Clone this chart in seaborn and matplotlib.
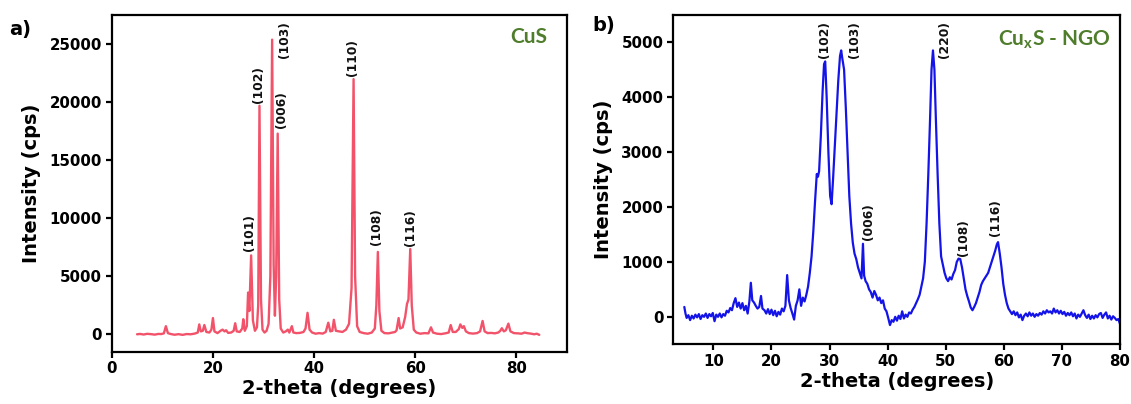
import numpy as np
import pandas as pd
import matplotlib
matplotlib.use("Agg")
import matplotlib.pyplot as plt
import seaborn as sns

# ---------------- data: panel a (CuS) ----------------
cus_theta = [5.0, 5.6, 6.3, 7.0, 7.8, 8.5, 9.2, 9.8, 10.3, 10.7, 11.1, 11.6, 12.4, 13.2, 14.0,
             14.8, 15.6, 16.4, 17.0, 17.3, 17.6, 18.0, 18.3, 18.7, 19.3, 19.7, 20.0, 20.3, 20.9,
             21.5, 21.9, 22.3, 22.6, 23.0, 23.6, 24.1, 24.4, 24.7, 25.3, 25.8, 26.0, 26.3, 26.7,
             26.95, 27.2, 27.55, 27.9, 28.3, 28.7, 28.95, 29.2, 29.5, 29.8, 30.2, 30.6, 31.0,
             31.35, 31.7, 32.0, 32.25, 32.5, 32.8, 33.1, 33.4, 33.9, 34.4, 34.8, 35.1, 35.6,
             35.9, 36.5, 37.2, 37.9, 38.3, 38.7, 39.1, 39.6, 40.3, 41.0, 41.7, 42.3, 42.8, 43.2,
             43.6, 43.9, 44.3, 44.9, 45.6, 46.3, 46.9, 47.4, 47.8, 48.1, 48.5, 49.0, 49.8, 50.6,
             51.4, 52.0, 52.3, 52.6, 52.9, 53.3, 53.9, 54.7, 55.5, 56.0, 56.3, 56.7, 57.0, 57.5,
             58.0, 58.35, 58.65, 59.0, 59.3, 59.7, 60.2, 61.0, 61.8, 62.6, 63.1, 63.5, 64.3,
             65.1, 65.9, 66.6, 67.0, 67.4, 68.0, 68.6, 68.9, 69.3, 69.6, 70.0, 70.6, 71.4, 72.2,
             72.8, 73.3, 73.7, 74.3, 75.0, 75.7, 76.4, 76.8, 77.1, 77.5, 77.9, 78.4, 78.8, 79.5,
             80.3, 81.0, 81.6, 82.1, 82.8, 83.5, 84.0, 84.5]
cus_intensity = [0, 30, -20, 40, 10, -30, 30, 20, 80, 700, 100, 30, -40, 10, -50,
                 20, 0, 60, 150, 850, 250, 300, 800, 200, 150, 400, 1400, 250, 100,
                 300, 400, 250, 350, 120, 150, 300, 950, 250, 200, 500, 1300, 300, 700,
                 3600, 2000, 6800, 1200, 300, 600, 2500, 19700, 3000, 400, 150, 300, 900,
                 5000, 25400, 6000, 1600, 5000, 17300, 3000, 500, 150, 250, 400, 150, 700,
                 150, 100, 120, 200, 500, 1850, 400, 150, 50, 100, 60, 200, 1000, 250,
                 300, 1250, 300, 250, 200, 400, 900, 4000, 22000, 5000, 700, 200, 100, 50,
                 150, 500, 2500, 7100, 2000, 300, 100, 80, 150, 200, 350, 1400, 500, 600,
                 1500, 2600, 3000, 7350, 2500, 400, 150, 50, 100, 80, 600, 150, 50,
                 20, 80, 150, 800, 200, 200, 450, 850, 550, 700, 250, 100, 60, 100,
                 250, 1150, 250, 100, 120, 80, 150, 300, 520, 250, 350, 920, 250, 100,
                 80, 50, 150, 100, 60, 0, 50, -50]
cus_labels = ["(101)", "(102)", "(103)", "(006)", "(110)", "(108)", "(116)"]
cus_label_theta = [27.2, 29.05, 34.2, 33.5, 47.6, 52.4, 59.1]
cus_label_int = [8800, 21500, 25400, 19400, 23900, 9300, 9200]

# ---------------- data: panel b (CuxS - NGO) ----------------
ngo_theta = [5.0, 5.2, 5.4, 5.7, 6.0, 6.3, 6.6, 6.9, 7.2, 7.5, 7.8, 8.1, 8.4, 8.7, 9.0, 9.3, 9.6,
             9.9, 10.2, 10.5, 10.8, 11.1, 11.4, 11.7, 12.0, 12.3, 12.6, 12.9, 13.2, 13.5, 13.8,
             14.1, 14.4, 14.7, 15.0, 15.3, 15.6, 15.9, 16.2, 16.45, 16.7, 17.0, 17.3, 17.6,
             17.9, 18.2, 18.45, 18.8, 19.1, 19.4, 19.7, 20.0, 20.3, 20.6, 20.9, 21.2, 21.5,
             21.8, 22.1, 22.4, 22.7, 23.0, 23.3, 23.6, 23.9, 24.2, 24.5, 24.8, 25.1, 25.4,
             25.7, 26.0, 26.3, 26.6, 26.9, 27.2, 27.5, 27.8, 28.0, 28.2, 28.5, 28.8, 29.05,
             29.25, 29.5, 29.8, 30.1, 30.35, 30.6, 30.9, 31.2, 31.5, 31.8, 32.0, 32.2, 32.5,
             32.8, 33.1, 33.4, 33.7, 34.0, 34.3, 34.6, 34.9, 35.2, 35.5, 35.75, 35.95, 36.2,
             36.5, 36.8, 37.1, 37.4, 37.7, 38.0, 38.3, 38.6, 38.9, 39.2, 39.5, 39.8, 40.1,
             40.4, 40.7, 41.0, 41.3, 41.6, 41.9, 42.2, 42.5, 42.8, 43.1, 43.4, 43.7, 44.0,
             44.3, 44.6, 44.9, 45.2, 45.5, 45.8, 46.1, 46.4, 46.7, 47.0, 47.3, 47.55, 47.8,
             48.05, 48.3, 48.6, 48.9, 49.2, 49.5, 49.8, 50.1, 50.4, 50.7, 51.0, 51.3, 51.6,
             51.9, 52.2, 52.5, 52.8, 53.1, 53.4, 53.7, 54.0, 54.3, 54.6, 54.9, 55.2, 55.5,
             55.8, 56.1, 56.4, 56.7, 57.0, 57.3, 57.6, 57.9, 58.2, 58.5, 58.8, 59.0, 59.3,
             59.6, 59.9, 60.2, 60.5, 60.8, 61.1, 61.4, 61.7, 62.0, 62.3, 62.6, 62.9, 63.2,
             63.5, 63.8, 64.1, 64.4, 64.7, 65.0, 65.3, 65.6, 65.9, 66.2, 66.5, 66.8, 67.1,
             67.4, 67.7, 68.0, 68.3, 68.6, 68.9, 69.2, 69.5, 69.8, 70.1, 70.4, 70.7, 71.0,
             71.3, 71.6, 71.9, 72.2, 72.5, 72.8, 73.1, 73.4, 73.7, 74.0, 74.3, 74.6, 74.9,
             75.2, 75.5, 75.8, 76.1, 76.4, 76.7, 77.0, 77.3, 77.6, 77.9, 78.2, 78.5, 78.8,
             79.1, 79.4, 79.7, 80.0]
ngo_intensity = [180, 60, -20, 30, -60, 20, -30, 40, -10, 50, -40, 30, 0, 60, -20, 50, 10,
                 70, -80, 40, 0, 60, -10, 50, 20, 110, 80, 160, 120, 250, 340,
                 180, 260, 150, 250, 120, 200, 60, 280, 620, 300, 260, 200, 150,
                 180, 380, 150, 120, 60, 140, 50, 130, 30, 110, 10, 90, 40,
                 150, 100, 200, 760, 300, 160, 60, -50, 200, 300, 500, 200, 350,
                 280, 400, 550, 800, 1100, 1550, 2100, 2600, 2550, 2650, 3300, 4100, 4600,
                 4650, 4000, 3000, 2200, 2050, 2500, 3100, 3700, 4300, 4750, 4850, 4700, 4500,
                 3800, 3000, 2200, 1700, 1350, 1150, 1050, 900, 800, 700, 1330, 750, 650,
                 600, 500, 450, 350, 470, 400, 300, 350, 250, 300, 150, 100, -20,
                 -150, -60, -90, 0, -70, 20, -40, 100, -30, 40, 0, 80, 60,
                 130, 180, 250, 320, 400, 550, 700, 1000, 1700, 2600, 3600, 4500, 4850,
                 4500, 3600, 2600, 1700, 1100, 950, 800, 700, 650, 720, 680, 780, 850,
                 1000, 1060, 1050, 900, 700, 500, 380, 280, 170, 120, 180, 250, 350,
                 450, 580, 650, 700, 750, 800, 900, 1000, 1100, 1200, 1320, 1360, 1150,
                 900, 600, 400, 250, 150, 100, 50, 100, 30, 80, -10, 40, -60,
                 20, 60, 10, 80, 20, 60, 0, 50, 20, 70, 40, 100, 60,
                 120, 80, 100, 60, 150, 80, 120, 60, 110, 50, 90, 20, 70,
                 30, 80, 10, 60, -30, 40, 0, 60, 120, 30, -20, 40, -40,
                 20, -30, 30, -10, 50, 70, -20, 40, 80, -30, 20, -50, 10,
                 -20, -60, -40, -130]
ngo_labels = ["(102)", "(103)", "(006)", "(220)", "(108)", "(116)"]
ngo_label_theta = [29.1, 34.3, 36.7, 49.7, 53.0, 58.5]
ngo_label_int = [5040, 5040, 1730, 5040, 1440, 1810]

# ---------------- style ----------------
sns.set_style("ticks")
plt.rcParams["font.family"] = ["DejaVu Sans"]
plt.rcParams["axes.linewidth"] = 1.6
plt.rcParams["text.color"] = "black"
plt.rcParams["axes.labelcolor"] = "black"
plt.rcParams["xtick.color"] = "black"
plt.rcParams["ytick.color"] = "black"
plt.rcParams["axes.edgecolor"] = "black"

fig = plt.figure(figsize=(11.31, 4.04), dpi=100)
ax_a = fig.add_axes([0.0988, 0.1295, 0.4026, 0.8326])
ax_b = fig.add_axes([0.5953, 0.1478, 0.3950, 0.8158])

df_a = pd.DataFrame({"theta": cus_theta, "intensity": cus_intensity})
df_b = pd.DataFrame({"theta": ngo_theta, "intensity": ngo_intensity})

sns.lineplot(data=df_a, x="theta", y="intensity", ax=ax_a, color="#f2536a",
             linewidth=1.7, sort=False, estimator=None)
sns.lineplot(data=df_b, x="theta", y="intensity", ax=ax_b, color="#1414e8",
             linewidth=1.6, sort=False, estimator=None)

for ax in (ax_a, ax_b):
    for s in ax.spines.values():
        s.set_visible(True)
        s.set_linewidth(1.6)
        s.set_color("black")
    ax.tick_params(axis="both", direction="out", length=4, width=1.6,
                   labelsize=10.8, top=False, right=False, pad=3,
                   colors="black", labelcolor="black")
    ax.set_xlabel("2-theta (degrees)", fontsize=14, fontweight="bold",
                  labelpad=2, color="black")
    ax.set_ylabel("Intensity (cps)", fontsize=14, fontweight="bold",
                  labelpad=6, color="black")

ax_a.set_xlim(0, 90)
ax_a.set_ylim(-1500, 27500)
ax_a.set_xticks([0, 20, 40, 60, 80])
ax_a.set_yticks([0, 5000, 10000, 15000, 20000, 25000])

ax_b.set_xlim(3.1, 80)
ax_b.set_ylim(-500, 5500)
ax_b.set_xticks([10, 20, 30, 40, 50, 60, 70, 80])
ax_b.set_yticks([0, 1000, 2000, 3000, 4000, 5000])

for ax in (ax_a, ax_b):
    for lab in ax.get_xticklabels() + ax.get_yticklabels():
        lab.set_fontweight("bold")
        lab.set_color("black")

for lab, x, y in zip(cus_labels, cus_label_theta, cus_label_int):
    ax_a.text(x, y, lab, rotation=90, ha="center", va="center",
              fontsize=8.8, fontweight="bold", color="#111111")
for lab, x, y in zip(ngo_labels, ngo_label_theta, ngo_label_int):
    ax_b.text(x, y, lab, rotation=90, ha="center", va="center",
              fontsize=8.8, fontweight="bold", color="#111111")

green = "#4f7d2c"
ax_a.text(82.5, 25630, "CuS", ha="center", va="center", fontsize=15,
          color=green, family=["Lato", "DejaVu Sans"], fontweight="bold")
ax_b.text(68.7, 5050, r"Cu$_\mathregular{x}$S - NGO", ha="center", va="center", fontsize=15,
          color=green, family=["Lato", "DejaVu Sans"], fontweight="bold")

fig.text(20 / 1131, 1 - 29 / 404, "a)", ha="center", va="center",
         fontsize=14, fontweight="bold", color="black")
fig.text(604 / 1131, 1 - 25 / 404, "b)", ha="center", va="center",
         fontsize=14, fontweight="bold", color="black")

fig.savefig("out.png", dpi=100)
